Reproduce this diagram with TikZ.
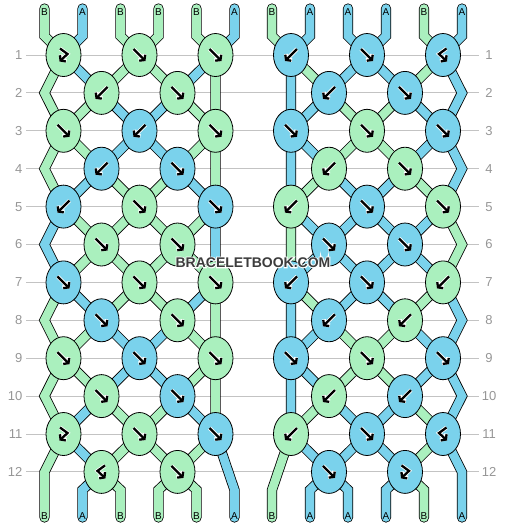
\documentclass[tikz,border=0pt]{standalone}
\usepackage{fontspec}
\setmainfont{Liberation Sans}
\usetikzlibrary{shapes.geometric,arrows.meta,backgrounds}
\definecolor{strandA}{RGB}{122,210,236}
\definecolor{strandB}{RGB}{170,240,190}
\definecolor{rowgrey}{RGB}{195,195,195}
\definecolor{numgrey}{RGB}{150,150,150}
\definecolor{markgrey}{RGB}{60,60,60}
\newcommand\wmhalo[1]{\rlap{\color{white}\addfontfeatures{FakeBold=14}#1}#1}

\begin{document}
\begin{tikzpicture}[x=1pt,y=-1pt]
    \tikzstyle{knot}=[ellipse, draw=black, line width=0.8pt, minimum width=35pt, minimum height=43pt, inner sep=0pt]
    \tikzstyle{knotA}=[knot, fill=strandA]
    \tikzstyle{knotB}=[knot, fill=strandB]
    \tikzstyle{knotarrow}=[draw=black, line width=2.3pt, -{Straight Barb[length=3.2pt,width=8.5pt]}, preaction={draw=white, line width=3.9pt}]
    \tikzstyle{arrF}=[path picture={\draw[knotarrow] ([shift={(-6,-6)}]path picture bounding box.center) -- ++(12,12);}]
    \tikzstyle{arrB}=[path picture={\draw[knotarrow] ([shift={(6,-6)}]path picture bounding box.center) -- ++(-12,12);}]
    \tikzstyle{arrFB}=[path picture={\draw[knotarrow] ([shift={(-3.5,-6.5)}]path picture bounding box.center) -- ++(7.5,5.5) -- ++(-8,7.5);}]
    \tikzstyle{arrBF}=[path picture={\draw[knotarrow] ([shift={(3.5,-6.5)}]path picture bounding box.center) -- ++(-7.5,5.5) -- ++(8,7.5);}]
    \tikzstyle{bandA}=[draw=black, line width=0.8pt, double=strandA, double distance=8.6pt, line cap=round]
    \tikzstyle{bandB}=[bandA, double=strandB]
    \tikzstyle{endlabel}=[inner sep=0pt, font=\fontsize{10}{10}\selectfont]
    \tikzstyle{rownum}=[inner sep=0pt, text=numgrey, font=\fontsize{13}{13}\selectfont]
    \tikzstyle{rowline}=[rowgrey, line width=1pt]

    \useasboundingbox (0,0) rectangle (506,528);

    \node[knotB, arrFB] (L1a) at (63.5,55) {};
    \node[knotB, arrF] (L1b) at (139.5,55) {};
    \node[knotB, arrF] (L1c) at (215.5,55) {};
    \node[knotB, arrB] (L2a) at (101.5,92.9) {};
    \node[knotB, arrF] (L2b) at (177.5,92.9) {};
    \node[knotB, arrF] (L3a) at (63.5,130.8) {};
    \node[knotA, arrB] (L3b) at (139.5,130.8) {};
    \node[knotB, arrF] (L3c) at (215.5,130.8) {};
    \node[knotA, arrB] (L4a) at (101.5,168.7) {};
    \node[knotA, arrF] (L4b) at (177.5,168.7) {};
    \node[knotA, arrB] (L5a) at (63.5,206.6) {};
    \node[knotB, arrF] (L5b) at (139.5,206.6) {};
    \node[knotA, arrF] (L5c) at (215.5,206.6) {};
    \node[knotB, arrF] (L6a) at (101.5,244.5) {};
    \node[knotB, arrF] (L6b) at (177.5,244.5) {};
    \node[knotA, arrF] (L7a) at (63.5,282.4) {};
    \node[knotB, arrF] (L7b) at (139.5,282.4) {};
    \node[knotB, arrF] (L7c) at (215.5,282.4) {};
    \node[knotA, arrF] (L8a) at (101.5,320.3) {};
    \node[knotB, arrF] (L8b) at (177.5,320.3) {};
    \node[knotB, arrF] (L9a) at (63.5,358.2) {};
    \node[knotA, arrF] (L9b) at (139.5,358.2) {};
    \node[knotB, arrF] (L9c) at (215.5,358.2) {};
    \node[knotB, arrF] (L10a) at (101.5,396.1) {};
    \node[knotA, arrF] (L10b) at (177.5,396.1) {};
    \node[knotB, arrFB] (L11a) at (63.5,434) {};
    \node[knotB, arrF] (L11b) at (139.5,434) {};
    \node[knotA, arrF] (L11c) at (215.5,434) {};
    \node[knotB, arrBF] (L12a) at (101.5,471.9) {};
    \node[knotB, arrF] (L12b) at (177.5,471.9) {};

    \node[knotA, arrB] (R1a) at (291,55) {};
    \node[knotA, arrF] (R1b) at (367,55) {};
    \node[knotA, arrBF] (R1c) at (443,55) {};
    \node[knotA, arrB] (R2a) at (329,92.9) {};
    \node[knotA, arrF] (R2b) at (405,92.9) {};
    \node[knotA, arrF] (R3a) at (291,130.8) {};
    \node[knotB, arrF] (R3b) at (367,130.8) {};
    \node[knotA, arrF] (R3c) at (443,130.8) {};
    \node[knotB, arrB] (R4a) at (329,168.7) {};
    \node[knotB, arrF] (R4b) at (405,168.7) {};
    \node[knotB, arrB] (R5a) at (291,206.6) {};
    \node[knotA, arrF] (R5b) at (367,206.6) {};
    \node[knotB, arrF] (R5c) at (443,206.6) {};
    \node[knotA, arrF] (R6a) at (329,244.5) {};
    \node[knotA, arrF] (R6b) at (405,244.5) {};
    \node[knotA, arrB] (R7a) at (291,282.4) {};
    \node[knotA, arrF] (R7b) at (367,282.4) {};
    \node[knotB, arrB] (R7c) at (443,282.4) {};
    \node[knotA, arrB] (R8a) at (329,320.3) {};
    \node[knotB, arrB] (R8b) at (405,320.3) {};
    \node[knotA, arrF] (R9a) at (291,358.2) {};
    \node[knotB, arrF] (R9b) at (367,358.2) {};
    \node[knotA, arrF] (R9c) at (443,358.2) {};
    \node[knotB, arrB] (R10a) at (329,396.1) {};
    \node[knotA, arrB] (R10b) at (405,396.1) {};
    \node[knotB, arrB] (R11a) at (291,434) {};
    \node[knotA, arrF] (R11b) at (367,434) {};
    \node[knotA, arrBF] (R11c) at (443,434) {};
    \node[knotA, arrF] (R12a) at (329,471.9) {};
    \node[knotA, arrFB] (R12b) at (405,471.9) {};

    \node[endlabel] (tL1) at (44.5,12.5) {B};
    \node[endlabel] (tL2) at (82.5,12.5) {A};
    \node[endlabel] (tL3) at (120.5,12.5) {B};
    \node[endlabel] (tL4) at (158.5,12.5) {B};
    \node[endlabel] (tL5) at (196.5,12.5) {B};
    \node[endlabel] (tL6) at (234.5,12.5) {A};
    \node[endlabel] (tR1) at (272,12.5) {B};
    \node[endlabel] (tR2) at (310,12.5) {A};
    \node[endlabel] (tR3) at (348,12.5) {A};
    \node[endlabel] (tR4) at (386,12.5) {A};
    \node[endlabel] (tR5) at (424,12.5) {B};
    \node[endlabel] (tR6) at (462,12.5) {A};
    \node[endlabel] (bL1) at (44.5,516.5) {B};
    \node[endlabel] (bL2) at (82.5,516.5) {A};
    \node[endlabel] (bL3) at (120.5,516.5) {B};
    \node[endlabel] (bL4) at (158.5,516.5) {B};
    \node[endlabel] (bL5) at (196.5,516.5) {B};
    \node[endlabel] (bL6) at (234.5,516.5) {A};
    \node[endlabel] (bR1) at (272,516.5) {B};
    \node[endlabel] (bR2) at (310,516.5) {A};
    \node[endlabel] (bR3) at (348,516.5) {A};
    \node[endlabel] (bR4) at (386,516.5) {A};
    \node[endlabel] (bR5) at (424,516.5) {B};
    \node[endlabel] (bR6) at (462,516.5) {A};

    \foreach \r in {1,...,12} {
        \node[rownum, anchor=east] (nL\r) at (22.5,{55+37.9*(\r-1)}) {\r};
        \node[rownum] (nR\r) at (489,{55+37.9*(\r-1)}) {\r};
    }

    \node[font=\bfseries\fontsize{14}{14}\selectfont, text=markgrey, inner sep=0pt] (mark) at (253,262.5) {\wmhalo{BRACELETBOOK.COM}};

    \begin{scope}[on background layer]
        \foreach \r in {1,...,12}
            \draw[rowline] (26,{55+37.9*(\r-1)}) -- (479,{55+37.9*(\r-1)});

        \draw[bandB] ([yshift=4pt]tL1.center) -- ++(0,27.5) -- (L1a.center)
            ([yshift=4pt]tL3.center) -- ++(0,27.5) -- (L1b.center)
            ([yshift=4pt]tL4.center) -- ++(0,27.5) -- (L1b.center)
            ([yshift=4pt]tL5.center) -- ++(0,27.5) -- (L1c.center)
            (L1a.center) -- ++(-19,37.9) -- (L3a.center)
            (L1b.center) -- (L2a.center) -- (L3a.center)
            (L1b.center) -- (L2b.center) -- (L3c.center)
            (L1c.center) -- (L3c.center)
            (L3a.center) -- ++(-19,37.9) -- (L5a.center)
            (L3a.center) -- (L4a.center) -- (L5b.center)
            (L3c.center) -- (L4b.center) -- (L5b.center)
            (L3c.center) -- (L5c.center)
            (L5a.center) -- (L6a.center) -- (L7a.center)
            (L5b.center) -- (L6a.center) -- (L7b.center)
            (L5b.center) -- (L6b.center) -- (L7b.center)
            (L5c.center) -- (L6b.center) -- (L7c.center)
            (L7a.center) -- ++(-19,37.9) -- (L9a.center)
            (L7b.center) -- (L8a.center) -- (L9a.center)
            (L7b.center) -- (L8b.center) -- (L9c.center)
            (L7c.center) -- (L9c.center)
            (L9a.center) -- ++(-19,37.9) -- (L11a.center)
            (L9a.center) -- (L10a.center) -- (L11b.center)
            (L9c.center) -- (L10b.center) -- (L11b.center)
            (L9c.center) -- (L11c.center)
            (L11a.center) -- ++(-19,38) -- ([yshift=-1pt]bL1.center)
            (L11b.center) -- (L12a.center) -- ++(19,18) -- ([yshift=-1pt]bL3.center)
            (L11b.center) -- (L12b.center) -- ++(-19,18) -- ([yshift=-1pt]bL4.center)
            (L11c.center) -- (L12b.center) -- ++(19,18) -- ([yshift=-1pt]bL5.center);

        \draw[bandA] ([yshift=4pt]tL2.center) -- ++(0,27.5) -- (L1a.center)
            ([yshift=4pt]tL6.center) -- ++(0,27.5) -- (L1c.center)
            (L1a.center) -- (L2a.center) -- (L3b.center)
            (L1c.center) -- (L2b.center) -- (L3b.center)
            (L3b.center) -- (L4a.center) -- (L5a.center)
            (L3b.center) -- (L4b.center) -- (L5c.center)
            (L5a.center) -- ++(-19,37.9) -- (L7a.center)
            (L5c.center) -- (L7c.center)
            (L7a.center) -- (L8a.center) -- (L9b.center)
            (L7c.center) -- (L8b.center) -- (L9b.center)
            (L9b.center) -- (L10a.center) -- (L11a.center)
            (L9b.center) -- (L10b.center) -- (L11c.center)
            (L11a.center) -- (L12a.center) -- ++(-19,18) -- ([yshift=-1pt]bL2.center)
            (L11c.center) -- ++(19,56) -- ([yshift=-1pt]bL6.center);

        \draw[bandB] ([yshift=4pt]tR1.center) -- ++(0,27.5) -- (R1a.center)
            ([yshift=4pt]tR5.center) -- ++(0,27.5) -- (R1c.center)
            (R1a.center) -- (R2a.center) -- (R3b.center)
            (R1c.center) -- (R2b.center) -- (R3b.center)
            (R3b.center) -- (R4a.center) -- (R5a.center)
            (R3b.center) -- (R4b.center) -- (R5c.center)
            (R5a.center) -- (R7a.center)
            (R5c.center) -- ++(19,37.9) -- (R7c.center)
            (R7a.center) -- (R8a.center) -- (R9b.center)
            (R7c.center) -- (R8b.center) -- (R9b.center)
            (R9b.center) -- (R10a.center) -- (R11a.center)
            (R9b.center) -- (R10b.center) -- (R11c.center)
            (R11a.center) -- ++(-19,56) -- ([yshift=-1pt]bR1.center)
            (R11c.center) -- (R12b.center) -- ++(19,18) -- ([yshift=-1pt]bR5.center);

        \draw[bandA] ([yshift=4pt]tR2.center) -- ++(0,27.5) -- (R1a.center)
            ([yshift=4pt]tR3.center) -- ++(0,27.5) -- (R1b.center)
            ([yshift=4pt]tR4.center) -- ++(0,27.5) -- (R1b.center)
            ([yshift=4pt]tR6.center) -- ++(0,27.5) -- (R1c.center)
            (R1a.center) -- (R3a.center)
            (R1b.center) -- (R2a.center) -- (R3a.center)
            (R1b.center) -- (R2b.center) -- (R3c.center)
            (R1c.center) -- ++(19,37.9) -- (R3c.center)
            (R3a.center) -- (R5a.center)
            (R3a.center) -- (R4a.center) -- (R5b.center)
            (R3c.center) -- (R4b.center) -- (R5b.center)
            (R3c.center) -- ++(19,37.9) -- (R5c.center)
            (R5a.center) -- (R6a.center) -- (R7a.center)
            (R5b.center) -- (R6a.center) -- (R7b.center)
            (R5b.center) -- (R6b.center) -- (R7b.center)
            (R5c.center) -- (R6b.center) -- (R7c.center)
            (R7a.center) -- (R9a.center)
            (R7b.center) -- (R8a.center) -- (R9a.center)
            (R7b.center) -- (R8b.center) -- (R9c.center)
            (R7c.center) -- ++(19,37.9) -- (R9c.center)
            (R9a.center) -- (R11a.center)
            (R9a.center) -- (R10a.center) -- (R11b.center)
            (R9c.center) -- (R10b.center) -- (R11b.center)
            (R9c.center) -- ++(19,37.9) -- (R11c.center)
            (R11a.center) -- (R12a.center) -- ++(-19,18) -- ([yshift=-1pt]bR2.center)
            (R11b.center) -- (R12a.center) -- ++(19,18) -- ([yshift=-1pt]bR3.center)
            (R11b.center) -- (R12b.center) -- ++(-19,18) -- ([yshift=-1pt]bR4.center)
            (R11c.center) -- ++(19,38) -- ([yshift=-1pt]bR6.center);
    \end{scope}
\end{tikzpicture}
\end{document}
